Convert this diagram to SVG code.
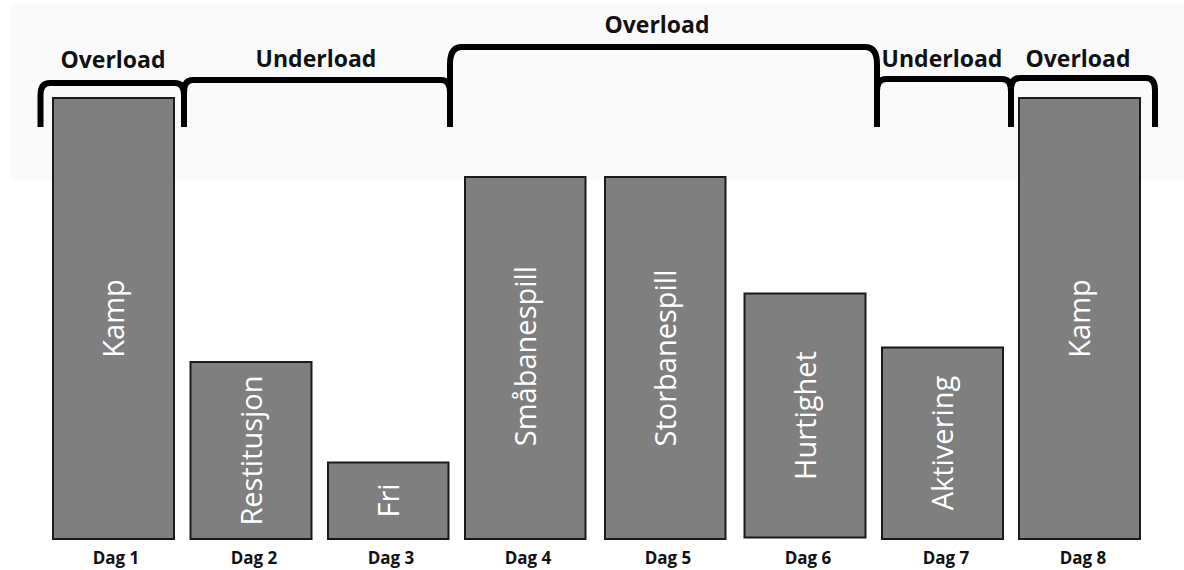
<svg xmlns="http://www.w3.org/2000/svg" width="1184" height="570" viewBox="0 0 1184 570">
  <style>
    .band { fill: #fafafa; }
    .bar { fill: #7f7f7f; stroke: #1a1a1a; stroke-width: 2; }
    .lbl { font-family: "Open Sans", "Liberation Sans", sans-serif; font-size: 29px; fill: #ffffff; text-anchor: middle; }
    .day { font-family: "Open Sans", "Liberation Sans", sans-serif; font-size: 17px; font-weight: bold; fill: #111111; text-anchor: middle; }
    .phase { font-family: "Open Sans", "Liberation Sans", sans-serif; font-size: 23px; font-weight: bold; fill: #111111; text-anchor: middle; }
    .brace { fill: none; stroke: #000000; stroke-width: 6; stroke-linecap: butt; stroke-linejoin: round; }
  </style>

  <!-- light backdrop behind the phase brackets -->
  <rect class="band" x="10" y="4" width="1174" height="176"/>

  <!-- phase brackets -->
  <g id="brackets">
    <path class="brace" d="M40.5,127 V95 Q40.5,83 50,83 H175 Q184,83 184,95 V127"/>
    <path class="brace" d="M184,127 V92 Q184,80 193,80 H441 Q450,80 450,92 V127"/>
    <path class="brace" d="M450,127 V64 Q450,47 462,47 H865 Q877,47 877,64 V127"/>
    <path class="brace" d="M877,127 V91 Q877,79 886,79 H1002 Q1011,79 1011,91 V127"/>
    <path class="brace" d="M1011,127 V90 Q1011,78 1020,78 H1146 Q1155,78 1155,90 V127"/>
  </g>

  <!-- phase titles -->
  <g id="phases">
    <text class="phase" x="113" y="68">Overload</text>
    <text class="phase" x="316" y="67">Underload</text>
    <text class="phase" x="657" y="33">Overload</text>
    <text class="phase" x="942" y="67">Underload</text>
    <text class="phase" x="1078" y="67">Overload</text>
  </g>

  <!-- training days -->
  <g id="dag1">
    <rect class="bar" x="53" y="98" width="121" height="441"/>
    <text class="lbl" transform="translate(124,318.5) rotate(-90)">Kamp</text>
    <text class="day" x="116" y="564">Dag 1</text>
  </g>
  <g id="dag2">
    <rect class="bar" x="190.5" y="362" width="121" height="177"/>
    <text class="lbl" transform="translate(261.5,450.5) rotate(-90)">Restitusjon</text>
    <text class="day" x="254" y="564">Dag 2</text>
  </g>
  <g id="dag3">
    <rect class="bar" x="328" y="462.5" width="120.5" height="76.5"/>
    <text class="lbl" transform="translate(398.5,500.5) rotate(-90)">Fri</text>
    <text class="day" x="391" y="564">Dag 3</text>
  </g>
  <g id="dag4">
    <rect class="bar" x="465" y="177" width="120.5" height="362"/>
    <text class="lbl" transform="translate(535.5,356) rotate(-90)">Småbanespill</text>
    <text class="day" x="528" y="564">Dag 4</text>
  </g>
  <g id="dag5">
    <rect class="bar" x="605" y="177" width="120.5" height="362"/>
    <text class="lbl" transform="translate(675.5,358) rotate(-90)">Storbanespill</text>
    <text class="day" x="668" y="564">Dag 5</text>
  </g>
  <g id="dag6">
    <rect class="bar" x="744.5" y="293.5" width="121" height="244"/>
    <text class="lbl" transform="translate(815.5,415.5) rotate(-90)">Hurtighet</text>
    <text class="day" x="808" y="564">Dag 6</text>
  </g>
  <g id="dag7">
    <rect class="bar" x="882" y="347.5" width="121" height="191.5"/>
    <text class="lbl" transform="translate(953,443) rotate(-90)">Aktivering</text>
    <text class="day" x="946" y="564">Dag 7</text>
  </g>
  <g id="dag8">
    <rect class="bar" x="1019" y="98" width="121" height="441"/>
    <text class="lbl" transform="translate(1090,318.5) rotate(-90)">Kamp</text>
    <text class="day" x="1083" y="564">Dag 8</text>
  </g>
</svg>
